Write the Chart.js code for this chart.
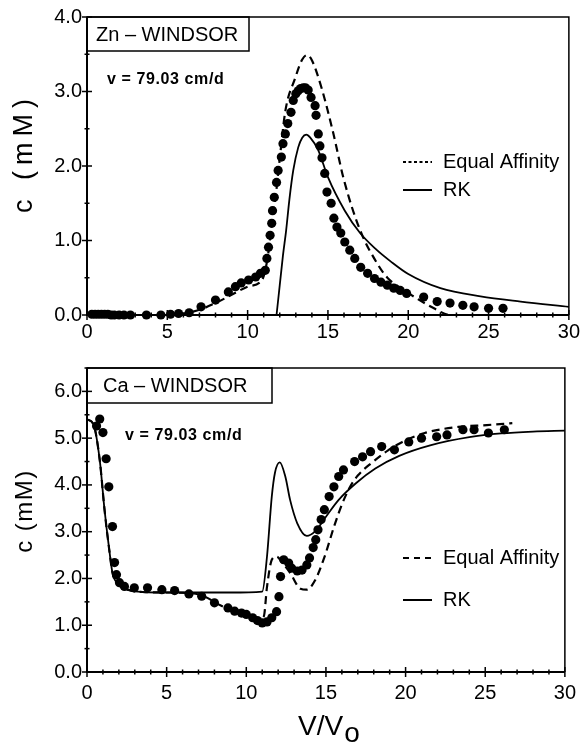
<!DOCTYPE html>
<html>
<head>
<meta charset="utf-8">
<script src="https://cdn.jsdelivr.net/npm/chart.js@4"></script>
<style>
html,body{margin:0;padding:0;background:#fff;}
.wrap{position:absolute;left:0;width:585px;}
</style>
</head>
<body>
<div class="wrap" style="top:0;height:345px"><canvas id="c1" width="585" height="345" style="width:585px;height:345px"></canvas></div>
<div class="wrap" style="top:345px;height:400px"><canvas id="c2" width="585" height="400" style="width:585px;height:400px"></canvas></div>
<script>
// ---------- Zn (top) ----------
const znDotsX = [0.3,0.5,0.7,0.9,1.1,1.3,1.5,1.7,2.0,2.3,2.7,3.7,4.6,5.2,5.7,6.36,7.1,8.0,8.8,9.24,9.6,10.06,10.5,10.8,11.1,11.2,11.3,11.4,11.5,11.55,11.66,11.8,11.9,12.1,12.2,12.35,12.5,12.7,12.84,13.0,13.15,13.3,13.46,13.6,13.77,13.95,14.2,14.26,14.4,14.5,14.63,14.8,14.94,15.2,15.37,15.56,15.8,16.05,16.36,16.67,17.04,17.47,17.9,18.3,18.7,19.1,19.5,19.9,20.96,21.8,22.6,23.4,24.1,25.0,25.9];
const znDotsY = [0.01,0.01,0.01,0.01,0.01,0.01,0,0,0,0,0,0,0,0.01,0.02,0.03,0.11,0.2,0.31,0.38,0.43,0.47,0.51,0.56,0.60,0.76,0.91,1.07,1.23,1.40,1.58,1.78,1.94,2.12,2.30,2.43,2.57,2.72,2.88,2.97,3.01,3.04,3.05,3.05,3.02,2.92,2.81,2.68,2.43,2.27,2.11,1.90,1.65,1.50,1.30,1.18,1.10,0.98,0.87,0.76,0.64,0.56,0.49,0.44,0.40,0.36,0.33,0.29,0.24,0.18,0.16,0.13,0.11,0.09,0.09];
const znEqX = [5.0,6.0,7.0,8.0,9.0,10.0,10.9,11.1,11.3,11.5,11.75,12.0,12.35,12.96,13.4,13.7,14.0,14.6,15.3,16.0,17.0,18.1,18.7,19.4,20.1,21.6,22.6,24.0,26.0];
const znEqY = [0.0,0.02,0.07,0.16,0.27,0.38,0.47,0.6,0.85,1.2,1.6,2.1,2.74,3.18,3.43,3.49,3.42,3.05,2.47,1.81,1.14,0.68,0.50,0.38,0.28,0.09,0.0,0.0,0.0];
const znRkX = [11.8,12.0,12.2,12.4,12.6,12.84,13.15,13.4,13.65,13.9,14.4,15.0,16.05,17.0,18.0,18.9,20.0,22.0,24.5,27.0,30.0];
const znRkY = [0.0,0.4,0.8,1.14,1.55,1.94,2.25,2.38,2.42,2.38,2.21,1.85,1.40,1.10,0.88,0.72,0.55,0.36,0.25,0.18,0.11];

// ---------- Ca (bottom) ----------
const caDotsX = [0.6,0.8,1.0,1.2,1.37,1.6,1.73,1.85,2.04,2.35,2.97,3.8,4.7,5.5,6.4,7.2,8.0,8.85,9.27,9.7,10.0,10.4,10.7,11.0,11.3,11.6,11.9,12.05,12.15,12.35,12.66,12.85,13.2,13.5,13.8,13.97,14.2,14.36,14.5,14.7,14.9,15.2,15.5,15.8,16.1,16.8,17.3,17.8,18.5,19.3,20.2,21.0,21.95,22.6,23.6,24.3,25.2,26.2];
const caDotsY = [5.26,5.41,5.12,4.56,3.96,3.11,2.34,2.08,1.91,1.83,1.80,1.80,1.76,1.74,1.67,1.62,1.48,1.37,1.30,1.26,1.23,1.16,1.10,1.05,1.07,1.16,1.29,1.61,2.04,2.40,2.33,2.22,2.16,2.18,2.29,2.44,2.66,2.83,3.04,3.26,3.47,3.75,3.96,4.18,4.32,4.50,4.60,4.71,4.82,4.75,4.92,5.00,5.03,5.07,5.18,5.18,5.11,5.18];
const caEqX = [0,0.4,0.8,1.1,1.42,1.6,2.0,2.66,3.5,5.0,6.5,7.4,8.4,9.5,10.7,11.1,11.3,11.6,11.9,12.3,12.75,13.4,13.8,14.3,14.9,15.5,16.0,16.5,17.0,17.9,18.9,19.8,21.2,23.3,25.1,26.7];
const caEqY = [5.4,5.3,4.53,3.47,2.55,2.12,1.86,1.75,1.71,1.70,1.69,1.61,1.42,1.27,1.12,1.19,1.82,2.40,2.47,2.32,2.12,1.78,1.76,1.95,2.45,3.10,3.58,3.95,4.20,4.48,4.74,4.92,5.11,5.24,5.28,5.32];
const caRkX = [0,0.4,0.8,1.1,1.42,1.6,2.0,2.66,3.5,5.0,7.0,9.0,11.0,11.3,11.6,11.8,12.1,12.45,12.75,13.2,13.8,14.3,15.0,15.8,16.9,18.1,19.6,21.6,24.0,26.0,28.0,30.0];
const caRkY = [5.4,5.3,4.53,3.47,2.55,2.12,1.86,1.75,1.71,1.70,1.70,1.70,1.72,2.47,3.75,4.26,4.48,4.18,3.68,3.18,2.91,3.0,3.32,3.68,4.04,4.35,4.62,4.85,5.02,5.10,5.14,5.16];

// axis settings
const xMin = 0, xMax = 30, xStep = 1, xMajor = 5;
const znYMax = 4.0, caYMax = 6.5, yStep = 0.5, yMajor = 1.0;

const FONT = "'Liberation Sans', Arial, Helvetica, sans-serif";
Chart.defaults.font.family = FONT;
Chart.defaults.color = '#000';

const pts = (xs, ys) => xs.map((x, i) => ({x, y: ys[i]}));

function near(v, m) { return Math.abs(v / m - Math.round(v / m)) < 1e-6; }

const decor = {
  id: 'decor',
  afterDraw(chart, args, o) {
    const {ctx, chartArea: a, scales: {x, y}} = chart;
    ctx.save();
    ctx.strokeStyle = '#000';
    ctx.fillStyle = '#000';
    ctx.setLineDash([]);
    // frame
    ctx.lineWidth = 1.5;
    ctx.beginPath();
    ctx.moveTo(a.left, a.top); ctx.lineTo(a.right, a.top); ctx.lineTo(a.right, a.bottom);
    ctx.stroke();
    ctx.lineWidth = 2;
    ctx.beginPath();
    ctx.moveTo(a.left, a.top); ctx.lineTo(a.left, a.bottom); ctx.lineTo(a.right, a.bottom);
    ctx.stroke();
    // cross ticks
    ctx.lineWidth = 1.5;
    x.ticks.forEach(t => {
      const px = x.getPixelForValue(t.value);
      const h = near(t.value, xMajor) ? 5 : 2.5;
      ctx.beginPath(); ctx.moveTo(px, a.bottom - h); ctx.lineTo(px, a.bottom + h); ctx.stroke();
    });
    y.ticks.forEach(t => {
      const py = y.getPixelForValue(t.value);
      const h = near(t.value, yMajor) ? 5 : 2.5;
      ctx.beginPath(); ctx.moveTo(a.left - h, py); ctx.lineTo(a.left + h, py); ctx.stroke();
    });
    // label box
    const b = o.box;
    ctx.lineWidth = 1.5;
    ctx.strokeRect(a.left, a.top, b.w, b.h);
    ctx.font = '20px ' + FONT;
    ctx.textBaseline = 'middle';
    ctx.textAlign = 'left';
    ctx.fillText(b.text, a.left + b.tx, a.top + b.h / 2 + 1);
    // velocity text
    ctx.font = 'bold 16px ' + FONT;
    if ('letterSpacing' in ctx) ctx.letterSpacing = '0.6px';
    ctx.fillText(o.vel.text, o.vel.x, o.vel.y);
    if ('letterSpacing' in ctx) ctx.letterSpacing = '0px';
    // legend
    ctx.font = '20px ' + FONT;
    o.legend.forEach(l => {
      ctx.lineWidth = 2;
      ctx.setLineDash(l.dash);
      ctx.beginPath(); ctx.moveTo(l.x0, l.y); ctx.lineTo(l.x1, l.y); ctx.stroke();
      ctx.setLineDash([]);
      ctx.fillText(l.text, l.tx, l.y);
    });
    // y title
    const yt = o.ytitle;
    ctx.save();
    ctx.translate(yt.x, yt.y);
    ctx.rotate(-Math.PI / 2);
    ctx.font = yt.size + 'px ' + FONT;
    ctx.textAlign = 'center';
    ctx.textBaseline = 'middle';
    if ('letterSpacing' in ctx) ctx.letterSpacing = yt.ls + 'px';
    ctx.fillText(yt.text, 0, 0);
    ctx.restore();
    // x title
    if (o.xtitle) {
      const xt = o.xtitle;
      ctx.font = '28px ' + FONT;
      ctx.textAlign = 'left';
      ctx.textBaseline = 'alphabetic';
      ctx.fillText(xt.main, xt.x, xt.y);
      const w = ctx.measureText(xt.main).width;
      ctx.fillText(xt.sub, xt.x + w + 1, xt.y + 7);
    }
    ctx.restore();
  }
};

function makeChart(id, cfg) {
  const lineDs = (data, dash, lw) => ({
    type: 'line', data, borderColor: '#000', borderWidth: lw, borderDash: dash,
    pointRadius: 0, fill: false, cubicInterpolationMode: 'monotone', clip: 3
  });
  return new Chart(document.getElementById(id), {
    type: 'scatter',
    data: {
      datasets: [
        { data: cfg.dots, pointRadius: 4.6, pointBackgroundColor: '#000', pointBorderColor: '#000', pointBorderWidth: 0, showLine: false, clip: false },
        lineDs(cfg.eq, [8, 5], 2.2),
        lineDs(cfg.rk, [], 1.8)
      ]
    },
    options: {
      responsive: false,
      animation: false,
      devicePixelRatio: 1,
      layout: { padding: { left: 0, right: 13, top: cfg.padTop, bottom: 0 } },
      plugins: { legend: { display: false }, tooltip: { enabled: false }, decor: cfg.decor },
      scales: {
        x: {
          type: 'linear', min: xMin, max: xMax,
          grid: { display: false, drawTicks: false },
          border: { display: false },
          ticks: {
            stepSize: xStep, autoSkip: false, maxRotation: 0, padding: cfg.xPad,
            font: { size: 20 }, color: '#000',
            callback: v => near(v, xMajor) ? String(Math.round(v)) : ''
          },
          afterFit: s => { s.height = cfg.xH; }
        },
        y: {
          type: 'linear', min: 0, max: cfg.yMax,
          grid: { display: false, drawTicks: false },
          border: { display: false },
          ticks: {
            stepSize: yStep, autoSkip: false, padding: 5,
            font: { size: 20 }, color: '#000',
            callback: v => near(v, yMajor) ? v.toFixed(1) : ''
          },
          afterFit: s => { s.width = 87; }
        }
      }
    },
    plugins: [decor]
  });
}

makeChart('c1', {
  dots: pts(znDotsX, znDotsY), eq: pts(znEqX, znEqY), rk: pts(znRkX, znRkY),
  padTop: 16, xH: 30, xPad: 5, yMax: znYMax,
  decor: {
    box: { text: 'Zn \u2013 WINDSOR', w: 162, h: 34, tx: 9 },
    vel: { text: 'v = 79.03 cm/d', x: 107, y: 80 },
    legend: [
      { text: 'Equal Affinity', dash: [3, 2.5], x0: 403, x1: 432, tx: 443, y: 162 },
      { text: 'RK', dash: [], x0: 403, x1: 432, tx: 443, y: 190 }
    ],
    ytitle: { text: 'c (mM)', x: 25, y: 153, ls: 6, size: 27 }
  }
});

makeChart('c2', {
  dots: pts(caDotsX, caDotsY), eq: pts(caEqX, caEqY), rk: pts(caRkX, caRkY),
  padTop: 23, xH: 73, xPad: 9, yMax: caYMax,
  decor: {
    box: { text: 'Ca \u2013 WINDSOR', w: 185, h: 35, tx: 16 },
    vel: { text: 'v = 79.03 cm/d', x: 125, y: 91 },
    legend: [
      { text: 'Equal Affinity', dash: [6, 5], x0: 403, x1: 432, tx: 443, y: 213 },
      { text: 'RK', dash: [], x0: 403, x1: 432, tx: 443, y: 255 }
    ],
    ytitle: { text: 'c (mM)', x: 25, y: 166, ls: 1.5, size: 24 },
    xtitle: { main: 'V/V', sub: 'o', x: 298, y: 390 }
  }
});
</script>
</body>
</html>
